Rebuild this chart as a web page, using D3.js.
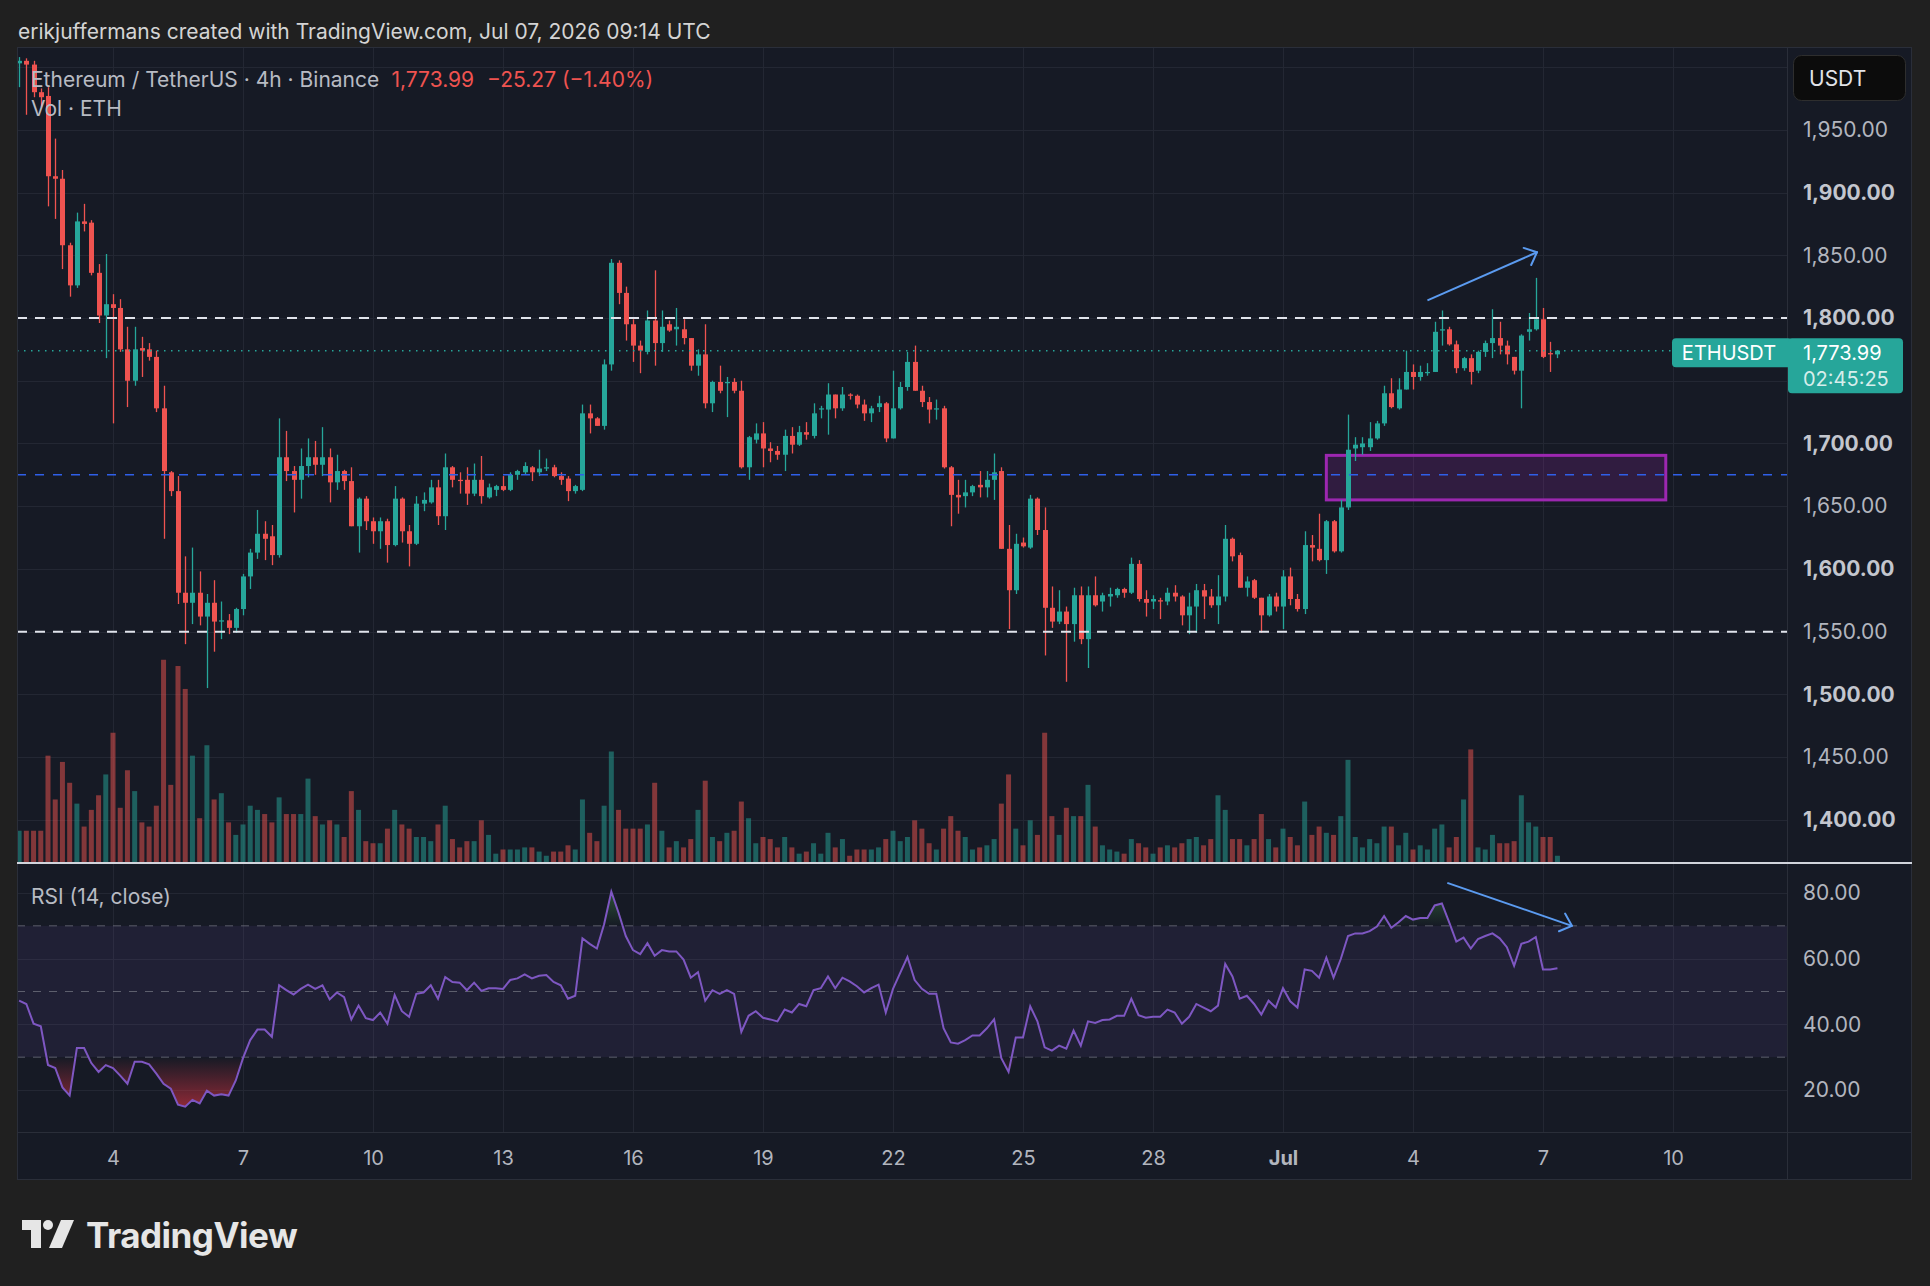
<!DOCTYPE html>
<html>
<head>
<meta charset="utf-8">
<script src="https://cdn.jsdelivr.net/npm/d3@7"></script>
<style>
  html, body { margin: 0; padding: 0; background: #202020; }
  svg { display: block; font-family: Inter, "Noto Sans", sans-serif; }
</style>
</head>
<body>
<div id="chart"></div>
<script>
// ETH/USDT 4h candles, Jun 1 20:00 UTC -> Jul 7 08:00 UTC
const opens = [2003,2005,2002,1980,1977,1913,1911,1858,1826,1877,1876,1836,1802,1811,1808,1775,1750,1776,1775,1769,
  1728,1677,1662,1581,1573,1581,1562,1573,1558,1559,1553,1568,1594,1613,1628,1626,1611,1689,1678,1671,
  1682,1689,1683,1689,1669,1678,1670,1634,1656,1638,1630,1638,1619,1656,1630,1620,1652,1653,1665,1642,
  1681,1671,1671,1660,1671,1657,1663,1666,1663,1675,1677,1681,1677,1680,1681,1674,1672,1662,1663,1724,
  1720,1714,1763,1844,1820,1795,1778,1773,1798,1780,1795,1791,1791,1784,1762,1771,1732,1749,1748,1749,
  1742,1681,1703,1708,1696,1694,1691,1706,1699,1709,1706,1727,1727,1739,1728,1739,1738,1731,1724,1729,
  1732,1704,1728,1745,1765,1742,1733,1727,1728,1681,1659,1658,1661,1667,1665,1671,1678,1616,1583,1621,
  1617,1656,1631,1569,1558,1566,1556,1579,1544,1579,1574,1578,1579,1584,1581,1604,1576,1574,1575,1574,
  1581,1578,1563,1570,1583,1578,1571,1578,1624,1611,1585,1591,1577,1563,1578,1570,1594,1576,1568,1619,
  1616,1607,1638,1614,1649,1696,1697,1697,1704,1716,1740,1728,1743,1757,1753,1756,1757,1790,1791,1779,
  1760,1768,1758,1773,1780,1784,1778,1769,1758,1789,1791,1799,1772,1771];
const highs = [2008,2007,2005,1983,1984,1943,1918,1860,1884,1891,1878,1843,1851,1819,1815,1793,1793,1785,1780,1774,
  1746,1678,1674,1610,1617,1598,1580,1591,1574,1564,1569,1596,1616,1647,1638,1635,1720,1710,1682,1696,
  1704,1702,1713,1696,1691,1679,1681,1657,1658,1641,1641,1640,1666,1657,1635,1658,1661,1671,1671,1692,
  1682,1677,1681,1684,1690,1668,1667,1674,1677,1679,1685,1682,1695,1688,1683,1677,1674,1667,1731,1731,
  1721,1767,1847,1846,1825,1799,1782,1806,1838,1806,1798,1808,1799,1784,1775,1795,1750,1762,1753,1752,
  1750,1706,1716,1717,1701,1698,1711,1713,1714,1717,1732,1730,1748,1739,1745,1740,1739,1735,1730,1738,
  1733,1758,1749,1773,1778,1746,1737,1735,1730,1682,1671,1671,1667,1678,1678,1692,1681,1635,1628,1625,
  1659,1657,1649,1586,1583,1570,1585,1586,1586,1594,1581,1585,1585,1585,1609,1607,1583,1579,1577,1585,
  1587,1579,1581,1588,1588,1584,1595,1635,1625,1613,1594,1592,1577,1580,1581,1599,1601,1580,1630,1627,
  1644,1639,1639,1655,1723,1705,1705,1717,1718,1746,1752,1752,1774,1763,1762,1764,1797,1806,1793,1782,
  1769,1771,1774,1782,1807,1797,1782,1769,1787,1804,1832,1808,1781,1774];
const lows = [1984,1962,1976,1968,1889,1879,1839,1817,1824,1869,1834,1796,1768,1716,1773,1729,1746,1753,1766,1725,
  1624,1658,1572,1540,1556,1555,1505,1534,1544,1548,1549,1563,1584,1608,1607,1603,1609,1670,1645,1656,
  1673,1675,1674,1653,1663,1663,1634,1613,1631,1620,1616,1605,1618,1621,1602,1619,1646,1652,1635,1631,
  1665,1660,1651,1658,1652,1656,1658,1662,1662,1671,1675,1670,1674,1678,1673,1667,1654,1660,1662,1708,
  1714,1711,1758,1811,1782,1765,1756,1771,1762,1773,1789,1778,1779,1758,1754,1728,1725,1740,1721,1740,
  1680,1671,1700,1681,1685,1687,1678,1692,1698,1703,1704,1720,1707,1720,1726,1735,1728,1718,1717,1725,
  1701,1704,1727,1742,1742,1729,1716,1719,1680,1634,1644,1649,1658,1657,1657,1655,1616,1552,1580,1617,
  1616,1627,1531,1553,1556,1510,1542,1540,1521,1570,1566,1570,1577,1577,1580,1574,1562,1568,1560,1571,
  1574,1555,1548,1549,1560,1569,1556,1574,1606,1585,1578,1576,1549,1562,1566,1552,1571,1566,1564,1606,
  1606,1596,1613,1613,1647,1686,1691,1694,1703,1714,1728,1727,1743,1743,1750,1754,1757,1778,1778,1756,
  1758,1747,1756,1769,1768,1771,1763,1755,1728,1782,1790,1768,1757,1768];
const closes = [2005,2002,1980,1976,1913,1911,1858,1826,1877,1875,1836,1802,1811,1808,1775,1750,1775,1774,1769,1728,
  1678,1662,1581,1573,1581,1562,1573,1558,1559,1553,1568,1594,1613,1628,1624,1611,1689,1678,1671,1682,
  1689,1683,1689,1669,1678,1670,1634,1656,1638,1630,1638,1619,1656,1630,1620,1652,1655,1665,1642,1681,
  1671,1670,1660,1671,1658,1665,1666,1663,1675,1678,1682,1677,1680,1681,1674,1671,1662,1666,1724,1720,
  1714,1763,1844,1820,1795,1778,1774,1798,1780,1793,1790,1793,1784,1762,1771,1732,1749,1742,1749,1742,
  1681,1705,1708,1696,1694,1691,1706,1699,1709,1707,1724,1728,1739,1728,1739,1738,1731,1724,1728,1732,
  1704,1728,1745,1765,1742,1733,1727,1728,1681,1659,1657,1661,1666,1665,1671,1677,1616,1583,1620,1618,
  1656,1631,1569,1558,1566,1556,1579,1544,1579,1571,1579,1580,1584,1581,1604,1576,1573,1576,1574,1581,
  1578,1563,1570,1583,1578,1571,1578,1624,1610,1585,1590,1577,1563,1578,1570,1594,1576,1568,1619,1617,
  1607,1638,1614,1649,1695,1699,1700,1704,1716,1740,1729,1743,1757,1753,1757,1757,1789,1791,1779,1760,
  1768,1757,1773,1780,1784,1778,1771,1758,1786,1791,1799,1769,1771,1773.99];
// volume, thousand ETH
const volumes = [15,15,15,15,51,30,48,38,28,17,25,32,42,62,26,44,34,19,17,27,
  97,37,94,83,51,21,56,30,33,19,13,18,27,25,23,19,31,23,23,23,
  40,22,18,20,18,12,34,25,10,9,9,16,25,18,16,12,12,10,18,27,
  11,7,10,10,20,13,4,6,6,6,7,7,5,3,5,5,8,6,30,14,
  10,27,53,25,16,16,16,18,38,15,7,10,7,11,25,39,12,10,14,15,
  29,21,9,12,11,7,12,7,4,5,9,4,14,7,11,3,6,6,6,7,
  11,15,10,12,20,16,9,6,16,22,15,12,6,7,8,11,28,42,16,8,
  20,13,62,22,13,26,22,22,37,17,8,6,5,4,11,9,7,4,7,8,
  7,9,11,12,8,11,32,25,11,11,8,11,23,11,7,16,12,8,29,13,
  17,14,13,22,49,12,7,11,9,17,17,8,14,6,8,6,16,18,7,12,
  30,54,7,6,13,9,9,10,32,19,17,12,12,3];
// RSI (14, close)
const rsiValues = [47.2,46.2,40.2,39.4,27.6,26.7,20.8,18.3,32.8,32.8,28.2,25.5,27.6,26.7,24.4,21.9,28.6,28.6,27.8,25.0,
  21.9,20.4,15.5,14.9,17.0,15.9,19.8,18.3,18.7,18.3,22.9,29.7,35.2,38.4,38.4,36.2,51.9,50.4,49.1,50.8,
  52.1,50.8,51.9,47.6,49.7,48.3,41.5,45.7,41.9,41.3,43.6,40.2,48.9,44.0,42.3,49.3,49.7,51.9,47.8,54.4,
  52.9,52.7,50.4,52.7,50.2,51.0,51.0,50.8,53.5,54.0,55.2,54.0,54.8,55.0,52.9,51.9,47.8,48.7,66.2,64.5,
  63.1,70.5,80.4,74.0,66.9,62.6,61.4,64.7,60.9,62.6,62.2,62.2,59.7,54.2,55.9,47.2,50.4,49.3,50.4,49.3,
  37.7,42.6,44.0,42.0,41.5,40.9,44.5,43.6,46.2,45.5,50.4,51.0,54.6,51.0,54.2,53.1,51.6,49.7,51.0,52.1,
  43.6,50.8,55.7,60.5,53.5,50.8,49.3,49.3,38.8,34.5,34.1,35.2,36.6,36.6,38.8,41.5,29.7,25.5,36.0,36.0,
  45.5,40.9,33.0,32.0,33.5,32.6,38.1,33.5,40.9,40.4,41.3,41.5,42.6,42.6,47.8,42.8,42.0,42.3,42.3,44.5,
  43.6,40.2,42.3,46.2,45.1,44.0,45.7,58.4,54.6,47.8,48.7,46.2,43.0,47.2,45.1,51.0,47.0,45.1,56.7,56.3,
  54.2,60.3,54.2,59.9,66.9,67.7,67.7,68.4,69.8,73.0,69.4,71.1,73.0,71.9,72.4,72.4,76.2,76.8,71.1,65.2,
  66.4,63.1,66.0,66.9,67.7,66.2,63.5,57.8,64.5,65.2,66.6,56.7,56.7,57.1];

const tickDates = [[5,4],[5,7],[5,10],[5,13],[5,16],[5,19],[5,22],[5,25],[5,28],[6,1],[6,4],[6,7],[6,10]]
  .map(([m, d]) => new Date(Date.UTC(2026, m, d)));
const tickLabels = ['4','7','10','13','16','19','22','25','28','Jul','4','7','10'];
const priceTicks = [1950,1900,1850,1800,1750,1700,1650,1600,1550,1500,1450,1400];
const priceGrid = [2000,1950,1900,1850,1800,1750,1700,1650,1600,1550,1500,1450,1400];
const rsiTicks = [80,60,40,20];
const rsiBands = [70,50,30];

const whiteLevels = [1800,1550];
const blueLevel = 1675;
const lastPrice = 1773.99;
const zone = { from: Date.UTC(2026,6,2,0), to: Date.UTC(2026,6,9,20), top: 1690.5, bottom: 1655 };
const priceArrow = { from: [Date.UTC(2026,6,4,8), 1814], to: [Date.UTC(2026,6,6,20,40), 1852.4] };
const rsiArrow = { from: [Date.UTC(2026,6,4,19), 83.1], to: [Date.UTC(2026,6,7,16), 70] };

// layout
const W = 1930, H = 1286;
const left = 17, plotRight = 1787, right = 1912;
const priceTop = 47, priceBottom = 863, rsiBottom = 1132, timeBottom = 1180;
const UP = '#26a69a', DOWN = '#ef5350';
const gridColor = '#232733', lineColor = '#2a2e39', axisText = '#b2b5be';
const FONT = 'Inter, "Noto Sans", sans-serif';

const svg = d3.select('#chart').append('svg').attr('width', W).attr('height', H);
const defs = svg.append('defs');

svg.append('rect').attr('width', W).attr('height', H).attr('fill', '#202020');
svg.append('rect')
  .attr('x', left).attr('y', priceTop)
  .attr('width', right - left).attr('height', timeBottom - priceTop)
  .attr('fill', '#161a25');

const x = d3.scaleUtc()
  .domain([new Date(Date.UTC(2026,5,4)), new Date(Date.UTC(2026,6,1))])
  .range([113, 1283]);
const y = d3.scaleLinear().domain([1400, 1800]).range([819.8, 318]);
const yVol = d3.scaleLinear().domain([0, 100]).range([862, 653.5]);
const yRsi = d3.scaleLinear().domain([20, 80]).range([1090, 893]);

const startTime = Date.UTC(2026, 5, 1, 20);
const bars = closes.map((c, i) => ({
  t: new Date(startTime + i * 4 * 3600e3),
  o: opens[i], h: highs[i], l: lows[i], c,
  v: volumes[i], r: rsiValues[i]
}));

defs.append('clipPath').attr('id', 'clipPrice').append('rect')
  .attr('x', left).attr('y', priceTop).attr('width', plotRight - left).attr('height', priceBottom - priceTop);
defs.append('clipPath').attr('id', 'clipRsi').append('rect')
  .attr('x', left).attr('y', priceBottom + 1).attr('width', plotRight - left).attr('height', rsiBottom - priceBottom - 1);

// grid
const grid = svg.append('g').attr('stroke', gridColor).attr('stroke-width', 1);
grid.selectAll('.vg').data(tickDates).join('line')
  .attr('x1', d => Math.round(x(d)) + 0.5).attr('x2', d => Math.round(x(d)) + 0.5)
  .attr('y1', priceTop).attr('y2', rsiBottom);
grid.selectAll('.hg').data(priceGrid).join('line')
  .attr('clip-path', 'url(#clipPrice)')
  .attr('x1', left).attr('x2', plotRight)
  .attr('y1', d => Math.round(y(d)) + 0.5).attr('y2', d => Math.round(y(d)) + 0.5);
grid.selectAll('.rg').data(rsiTicks).join('line')
  .attr('x1', left).attr('x2', plotRight)
  .attr('y1', d => Math.round(yRsi(d)) + 0.5).attr('y2', d => Math.round(yRsi(d)) + 0.5);

// price pane
const price = svg.append('g').attr('clip-path', 'url(#clipPrice)');

price.append('g').selectAll('rect').data(bars).join('rect')
  .attr('x', d => x(d.t) - 2.5).attr('width', 5)
  .attr('y', d => yVol(d.v)).attr('height', d => yVol(0) - yVol(d.v))
  .attr('fill', d => d.c >= d.o ? UP : DOWN).attr('fill-opacity', 0.5);

price.append('rect')
  .attr('x', x(new Date(zone.from))).attr('y', y(zone.top))
  .attr('width', x(new Date(zone.to)) - x(new Date(zone.from)))
  .attr('height', y(zone.bottom) - y(zone.top))
  .attr('fill', 'rgba(156,39,176,0.2)').attr('stroke', '#9c27b0').attr('stroke-width', 3);

const candle = price.append('g').selectAll('g').data(bars).join('g')
  .attr('fill', d => d.c >= d.o ? UP : DOWN).attr('stroke', d => d.c >= d.o ? UP : DOWN);
candle.append('line')
  .attr('x1', d => Math.round(x(d.t)) + 0.5).attr('x2', d => Math.round(x(d.t)) + 0.5)
  .attr('y1', d => y(d.h)).attr('y2', d => y(d.l)).attr('stroke-width', 1.3);
candle.append('rect')
  .attr('stroke', 'none')
  .attr('x', d => Math.round(x(d.t)) - 2).attr('width', 5)
  .attr('y', d => y(Math.max(d.o, d.c)))
  .attr('height', d => Math.max(1.2, Math.abs(y(d.o) - y(d.c))));

price.selectAll('.wl').data(whiteLevels).join('line')
  .attr('x1', left).attr('x2', plotRight)
  .attr('y1', d => y(d)).attr('y2', d => y(d))
  .attr('stroke', '#e0e3eb').attr('stroke-width', 2).attr('stroke-dasharray', '10,8');
price.append('line')
  .attr('x1', left).attr('x2', plotRight).attr('y1', y(blueLevel)).attr('y2', y(blueLevel))
  .attr('stroke', '#2f5fe8').attr('stroke-width', 1.6).attr('stroke-dasharray', '9,9');
price.append('line')
  .attr('x1', left).attr('x2', plotRight).attr('y1', y(lastPrice)).attr('y2', y(lastPrice))
  .attr('stroke', UP).attr('stroke-width', 1.5).attr('stroke-dasharray', '1.5,5.5');

function arrow(g, p0, p1, color) {
  g.append('line').attr('x1', p0[0]).attr('y1', p0[1]).attr('x2', p1[0]).attr('y2', p1[1])
    .attr('stroke', color).attr('stroke-width', 2);
  const a = Math.atan2(p1[1] - p0[1], p1[0] - p0[0]) + Math.PI;
  [-0.73, 0.73].forEach(da => {
    g.append('line').attr('x1', p1[0]).attr('y1', p1[1])
      .attr('x2', p1[0] + 14 * Math.cos(a + da)).attr('y2', p1[1] + 14 * Math.sin(a + da))
      .attr('stroke', color).attr('stroke-width', 2).attr('stroke-linecap', 'round');
  });
}
arrow(price, [x(new Date(priceArrow.from[0])), y(priceArrow.from[1])],
  [x(new Date(priceArrow.to[0])), y(priceArrow.to[1])], '#5b9bf0');

// RSI pane
const rsi = svg.append('g').attr('clip-path', 'url(#clipRsi)');
rsi.append('rect')
  .attr('x', left).attr('width', plotRight - left)
  .attr('y', yRsi(70)).attr('height', yRsi(30) - yRsi(70))
  .attr('fill', 'rgba(126,87,194,0.1)');
rsi.selectAll('.band').data(rsiBands).join('line')
  .attr('x1', left).attr('x2', plotRight)
  .attr('y1', d => yRsi(d)).attr('y2', d => yRsi(d))
  .attr('stroke', '#787b86').attr('stroke-opacity', 0.7).attr('stroke-dasharray', '8,8');

const gOS = defs.append('linearGradient').attr('id', 'os').attr('gradientUnits', 'userSpaceOnUse')
  .attr('x1', 0).attr('x2', 0).attr('y1', yRsi(30)).attr('y2', yRsi(5));
gOS.append('stop').attr('offset', 0).attr('stop-color', '#f23645').attr('stop-opacity', 0);
gOS.append('stop').attr('offset', 1).attr('stop-color', '#f23645').attr('stop-opacity', 0.9);
const gOB = defs.append('linearGradient').attr('id', 'ob').attr('gradientUnits', 'userSpaceOnUse')
  .attr('x1', 0).attr('x2', 0).attr('y1', yRsi(70)).attr('y2', yRsi(95));
gOB.append('stop').attr('offset', 0).attr('stop-color', '#4caf50').attr('stop-opacity', 0);
gOB.append('stop').attr('offset', 1).attr('stop-color', '#4caf50').attr('stop-opacity', 0.9);

rsi.append('path').datum(bars)
  .attr('fill', 'url(#os)')
  .attr('d', d3.area().x(d => x(d.t)).y0(yRsi(30)).y1(d => yRsi(Math.min(d.r, 30))));
rsi.append('path').datum(bars)
  .attr('fill', 'url(#ob)')
  .attr('d', d3.area().x(d => x(d.t)).y0(yRsi(70)).y1(d => yRsi(Math.max(d.r, 70))));
rsi.append('path').datum(bars)
  .attr('fill', 'none').attr('stroke', '#7e57c2').attr('stroke-width', 2)
  .attr('d', d3.line().x(d => x(d.t)).y(d => yRsi(d.r)));

arrow(rsi, [x(new Date(rsiArrow.from[0])), yRsi(rsiArrow.from[1])],
  [x(new Date(rsiArrow.to[0])), yRsi(rsiArrow.to[1])], '#5b9bf0');

// frame lines
svg.append('line').attr('x1', plotRight + 0.5).attr('x2', plotRight + 0.5)
  .attr('y1', priceTop).attr('y2', timeBottom).attr('stroke', lineColor);
svg.append('line').attr('x1', left).attr('x2', right)
  .attr('y1', rsiBottom + 0.5).attr('y2', rsiBottom + 0.5).attr('stroke', lineColor);
svg.append('rect').attr('x', left + 0.5).attr('y', priceTop + 0.5)
  .attr('width', right - left - 1).attr('height', timeBottom - priceTop - 1)
  .attr('fill', 'none').attr('stroke', lineColor);
svg.append('line').attr('x1', left).attr('x2', right)
  .attr('y1', priceBottom).attr('y2', priceBottom)
  .attr('stroke', '#d1d4dc').attr('stroke-width', 2);

// axes
const priceAxis = svg.append('g').attr('transform', `translate(1803,0)`)
  .call(d3.axisRight(y).tickValues(priceTicks).tickSize(0).tickPadding(0).tickFormat(d3.format(',.2f')));
priceAxis.select('.domain').remove();
priceAxis.selectAll('text')
  .attr('font-size', 21).attr('font-family', FONT)
  .attr('font-weight', d => d % 100 === 0 ? 700 : 400)
  .attr('fill', d => d % 100 === 0 ? '#c3c6ce' : axisText);

const rsiAxis = svg.append('g').attr('transform', `translate(1803,0)`)
  .call(d3.axisRight(yRsi).tickValues(rsiTicks).tickSize(0).tickPadding(0).tickFormat(d3.format('.2f')));
rsiAxis.select('.domain').remove();
rsiAxis.selectAll('text')
  .attr('font-size', 21).attr('font-family', FONT).attr('fill', axisText);

const timeAxis = svg.append('g').attr('transform', `translate(0,${rsiBottom})`)
  .call(d3.axisBottom(x).tickValues(tickDates).tickSize(0).tickPadding(19).tickFormat((d, i) => tickLabels[i]));
timeAxis.select('.domain').remove();
timeAxis.selectAll('text')
  .attr('font-size', 20).attr('font-family', FONT)
  .attr('font-weight', (d, i) => tickLabels[i] === 'Jul' ? 700 : 400)
  .attr('fill', axisText);

// last price labels
const yl = y(lastPrice);
svg.append('rect').attr('x', 1672).attr('y', yl - 12.5).attr('width', 120).attr('height', 29)
  .attr('rx', 4).attr('fill', UP);
svg.append('text').attr('x', 1729).attr('y', yl + 2).attr('text-anchor', 'middle')
  .attr('dominant-baseline', 'central').attr('font-size', 20).attr('fill', '#ffffff').text('ETHUSDT');
svg.append('rect').attr('x', plotRight + 1).attr('y', yl - 12.5).attr('width', 115).attr('height', 55)
  .attr('rx', 4).attr('fill', UP);
svg.append('text').attr('x', 1803).attr('y', yl + 2).attr('dominant-baseline', 'central')
  .attr('font-size', 20).attr('fill', '#ffffff').text(d3.format(',.2f')(lastPrice));
svg.append('text').attr('x', 1803).attr('y', yl + 28).attr('dominant-baseline', 'central')
  .attr('font-size', 20).attr('fill', 'rgba(255,255,255,0.82)').text('02:45:25');

// currency box
svg.append('rect').attr('x', 1793.5).attr('y', 55.5).attr('width', 112).attr('height', 45)
  .attr('rx', 8).attr('fill', '#0c0c0c').attr('stroke', '#2e2e2e');
svg.append('text').attr('x', 1809).attr('y', 78).attr('dominant-baseline', 'central')
  .attr('font-size', 21).attr('fill', '#e1e3e8').text('USDT');

// legends
svg.append('text').attr('x', 18).attr('y', 31).attr('dominant-baseline', 'central')
  .attr('font-size', 21).attr('fill', '#d4d4d4')
  .text('erikjuffermans created with TradingView.com, Jul 07, 2026 09:14 UTC');

const legend = svg.append('text').attr('x', 31).attr('y', 79).attr('dominant-baseline', 'central')
  .attr('font-size', 21).attr('fill', '#b8bbc3');
legend.append('tspan').text('Ethereum / TetherUS · 4h · Binance');
legend.append('tspan').attr('dx', 13).attr('fill', DOWN).text('1,773.99');
legend.append('tspan').attr('dx', 13).attr('fill', DOWN).text('\u221225.27 (\u22121.40%)');

svg.append('text').attr('x', 31).attr('y', 108).attr('dominant-baseline', 'central')
  .attr('font-size', 21).attr('fill', '#b8bbc3').text('Vol · ETH');
svg.append('text').attr('x', 31).attr('y', 896).attr('dominant-baseline', 'central')
  .attr('font-size', 21).attr('fill', '#b8bbc3').text('RSI (14, close)');

// TradingView logo
const logo = svg.append('g').attr('transform', 'translate(22,1220)').attr('fill', '#e6e6e6');
logo.append('path').attr('d', 'M0 0 H19 V28 H9 V10 H0 Z');
logo.append('circle').attr('cx', 26).attr('cy', 5).attr('r', 5);
logo.append('path').attr('d', 'M39 0 H52 L40 28 H27 Z');
svg.append('text').attr('x', 86).attr('y', 1248)
  .attr('font-size', 35).attr('font-weight', 700).attr('fill', '#e6e6e6')
  .attr('letter-spacing', -0.5).text('TradingView');
</script>
</body>
</html>
